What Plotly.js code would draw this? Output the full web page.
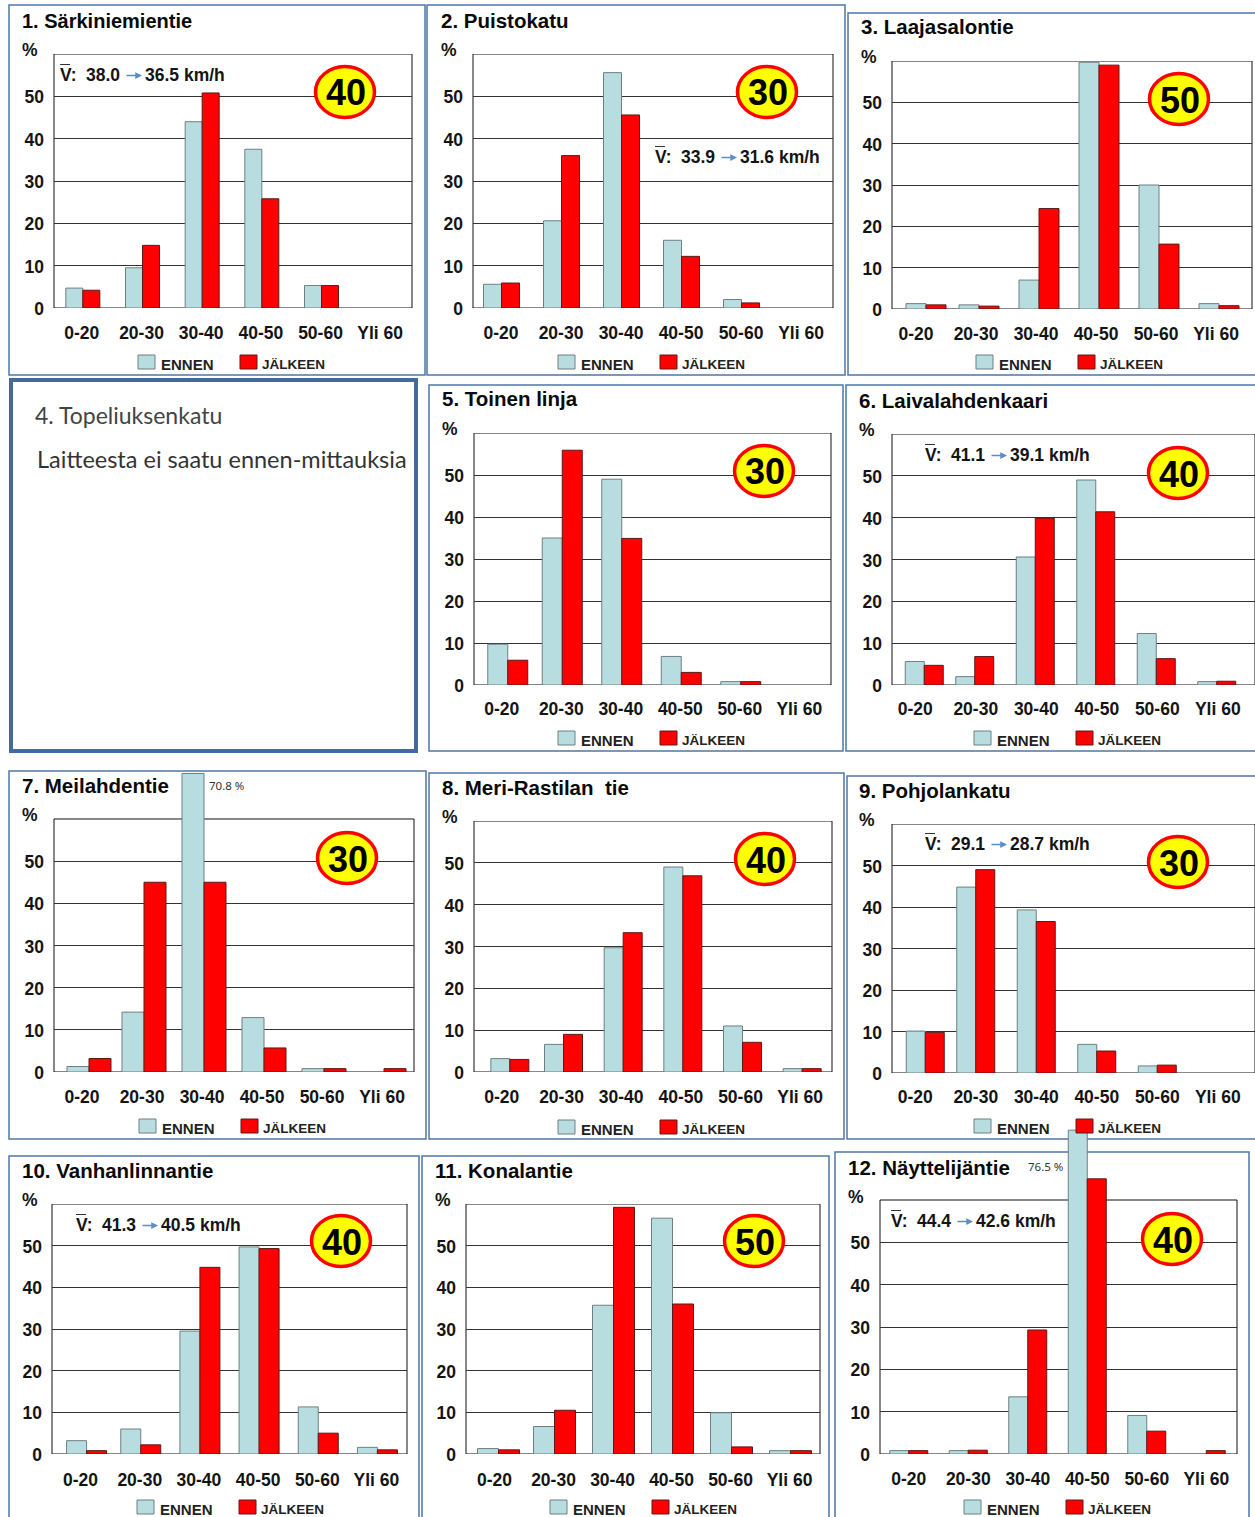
<!DOCTYPE html>
<html>
<head>
<meta charset="utf-8">
<script src="https://cdn.plot.ly/plotly-3.0.1.min.js"></script>
<style>html,body{margin:0;padding:0;background:#fff}</style>
</head>
<body>
<div id="chart" style="width:1255px;height:1517px"></div>
<script>
// Speed classes (km/h) on the category axis of every panel
const speedClasses = ['0-20', '20-30', '30-40', '40-50', '50-60', 'Yli 60'];

// Share of vehicles (%) per speed class, before and after
const ennen1 = [4.7, 9.5, 44, 37.5, 5.3, 0];
const jalkeen1 = [4.2, 14.8, 50.8, 25.8, 5.3, 0];
const ennen2 = [5.6, 20.6, 55.6, 16, 2, 0];
const jalkeen2 = [5.9, 36, 45.6, 12.2, 1.2, 0];
const ennen3 = [1.3, 1, 7, 59.7, 30, 1.3];
const jalkeen3 = [1, 0.7, 24.3, 59, 15.7, 0.8];
const ennen5 = [9.7, 35, 49, 6.8, 0.8, 0];
const jalkeen5 = [5.9, 55.9, 34.9, 3, 0.8, 0];
const ennen6 = [5.6, 2, 30.6, 49, 12.3, 0.8];
const jalkeen6 = [4.7, 6.8, 39.9, 41.4, 6.3, 0.9];
const ennen7 = [1.3, 14.2, 70.8, 12.9, 0.8, 0];
const jalkeen7 = [3.2, 45, 45, 5.7, 0.8, 0.8];
const ennen8 = [3.2, 6.6, 29.7, 49, 11, 0.8];
const jalkeen8 = [3, 9, 33.3, 46.9, 7.1, 0.8];
const ennen9 = [10.1, 44.8, 39.3, 6.9, 1.7, 0];
const jalkeen9 = [9.8, 49, 36.5, 5.3, 1.9, 0];
const ennen10 = [3.2, 6, 29.5, 49.7, 11.3, 1.6];
const jalkeen10 = [0.8, 2.2, 44.8, 49.3, 5, 1];
const ennen11 = [1.3, 6.6, 35.7, 56.6, 9.9, 0.8];
const jalkeen11 = [1, 10.5, 59.2, 36, 1.7, 0.8];
const ennen12 = [0.8, 0.8, 13.5, 76.5, 9.1, 0];
const jalkeen12 = [0.8, 0.9, 29.3, 65, 5.4, 0.8];

const W = 1255, H = 1517;
const FONT = '"Liberation Sans", Arial, sans-serif';
const INK = '#141414';
const FRAME_TOP = 60;   // value at which each plot frame closes

// Pixel helpers for the paper coordinate system
const px = x => x / W;
const py = y => 1 - y / H;

// One entry per chart panel: box = outer frame, plot = [left, right, top, bottom],
// bw = bar width, shift = bar offset, lead = extra offset of the first group,
// ls = tick label offset (all in pixels)
const panels = [
  {title: '1. Särkiniemientie', ts: 20, e: ennen1, j: jalkeen1, limit: 40, box: [9, 5, 425, 375], plot: [54, 412, 54, 308], bw: 17, shift: -1, lead: 0, ls: -2, tx: 22, ty: 21, sign: [345, 92], lx: 138, ly: 362, xy: 333, v: ['38.0', '36.5', 59, 75]},
  {title: '2. Puistokatu', e: ennen2, j: jalkeen2, limit: 30, box: [427, 5, 845, 375], plot: [473, 833, 54, 308], bw: 18, shift: -1.5, lead: 0, ls: -2, tx: 441, ty: 21, sign: [767, 92], lx: 558, ly: 362, xy: 333, v: ['33.9', '31.6', 654, 157]},
  {title: '3. Laajasalontie', e: ennen3, j: jalkeen3, limit: 50, box: [848, 13, 1256, 375], plot: [892, 1252, 61, 309], bw: 20, shift: -3, lead: 7, ls: -6, tx: 861, ty: 28, sign: [1179, 99], lx: 976, ly: 362, xy: 334},
  {title: '5. Toinen linja', e: ennen5, j: jalkeen5, limit: 30, box: [429, 385, 843, 751], plot: [474, 831, 433, 685], bw: 20, shift: -1, lead: 5, ls: -2, tx: 442, ty: 400, sign: [764, 471], lx: 558, ly: 738, xy: 709},
  {title: '6. Laivalahdenkaari', e: ennen6, j: jalkeen6, limit: 40, box: [846, 385, 1256, 751], plot: [892, 1255, 434, 685], bw: 19, shift: -8, lead: 10, ls: -7, tx: 859, ty: 401, sign: [1178, 473], lx: 974, ly: 738, xy: 709, v: ['41.1', '39.1', 924, 455]},
  {title: '7. Meilahdentie', e: ennen7, j: jalkeen7, limit: 30, box: [9, 771, 426, 1139], plot: [54, 414, 819, 1072], bw: 22, shift: 0, lead: 5, ls: -2, tx: 22, ty: 786, sign: [347, 858], lx: 139, ly: 1126, xy: 1097, headroom: 80, note: ['70.8 %', 208, 785]},
  {title: '8. Meri-Rastilan  tie', e: ennen8, j: jalkeen8, limit: 40, box: [429, 773, 844, 1139], plot: [474, 832, 821, 1072], bw: 19, shift: 0, lead: 6, ls: -2, tx: 442, ty: 788, sign: [765, 859], lx: 558, ly: 1127, xy: 1097},
  {title: '9. Pohjolankatu', e: ennen9, j: jalkeen9, limit: 30, box: [847, 776, 1256, 1139], plot: [892, 1255, 824, 1073], bw: 19, shift: -7, lead: 10, ls: -7, tx: 859, ty: 791, sign: [1178, 862], lx: 974, ly: 1126, xy: 1097, v: ['29.1', '28.7', 924, 844]},
  {title: '10. Vanhanlinnantie', e: ennen10, j: jalkeen10, limit: 40, box: [9, 1156, 419, 1518], plot: [52, 407, 1204, 1454], bw: 20, shift: 0, lead: 5, ls: -1, tx: 22, ty: 1171, sign: [341, 1241], lx: 137, ly: 1507, xy: 1480, v: ['41.3', '40.5', 75, 1225]},
  {title: '11. Konalantie', e: ennen11, j: jalkeen11, limit: 50, box: [422, 1156, 829, 1518], plot: [466, 820, 1204, 1454], bw: 21, shift: 0, lead: 3, ls: -1, tx: 435, ty: 1171, sign: [754, 1241], lx: 550, ly: 1507, xy: 1480},
  {title: '12. Näyttelijäntie', e: ennen12, j: jalkeen12, limit: 40, box: [835, 1152, 1249, 1518], plot: [880, 1237, 1200, 1454], bw: 19, shift: -1, lead: 0, ls: -1, tx: 848, ty: 1168, sign: [1172, 1239], lx: 964, ly: 1507, xy: 1479, headroom: 80, v: ['44.4', '42.6', 890, 1221], note: ['76.5 %', 1027, 1166]}
];

const traces = [], shapes = [], annotations = [];
const layout = {
  width: W, height: H, autosize: false,
  margin: {l: 0, r: 0, t: 0, b: 0},
  paper_bgcolor: '#fff', plot_bgcolor: 'rgba(0,0,0,0)',
  showlegend: false, barmode: 'overlay',
  font: {family: FONT, color: INK},
  shapes, annotations
};

function label(text, x, y, size, opts) {
  annotations.push(Object.assign({
    text, xref: 'paper', yref: 'paper', x: px(x), y: py(y),
    xanchor: 'left', yanchor: 'middle', showarrow: false, borderpad: 0,
    font: {family: FONT, size, color: INK, weight: 700}
  }, opts || {}));
}

panels.forEach((p, i) => {
  const n = i === 0 ? '' : String(i + 1);
  const [left, right, top, bottom] = p.plot;
  const catW = (right - left) / speedClasses.length;
  const width = p.bw / catW, centre = p.shift / catW;
  const yMax = p.headroom || FRAME_TOP;
  // Panels with a bar beyond the frame get a taller axis; the frame stays at FRAME_TOP
  const domainTop = bottom - (bottom - top) * yMax / FRAME_TOP;
  const edge = values => values.map(v => (v > 0 ? 1 : 0));
  const starts = base => speedClasses.map((_, k) => base + (k === 0 ? p.lead / catW : 0));

  traces.push({
    type: 'bar', name: 'ENNEN', x: speedClasses, y: p.e, xaxis: 'x' + n, yaxis: 'y' + n,
    width, offset: starts(centre - width),
    marker: {color: '#b8dde1', line: {color: '#6f7f80', width: edge(p.e)}}
  }, {
    type: 'bar', name: 'JÄLKEEN', x: speedClasses, y: p.j, xaxis: 'x' + n, yaxis: 'y' + n,
    width, offset: starts(centre),
    marker: {color: '#ff0000', line: {color: '#5a1a1a', width: edge(p.j)}}
  });

  layout['xaxis' + n] = {
    domain: [px(left), px(right)], anchor: 'y' + n, type: 'category',
    categoryorder: 'array', categoryarray: speedClasses, range: [-0.5, 5.5],
    showgrid: false, showline: false,
    ticks: '', ticklabelstandoff: Math.round(p.xy - bottom - 13), ticklabelshift: p.ls, fixedrange: true,
    tickfont: {family: FONT, size: 17.5, color: INK, weight: 700}
  };
  layout['yaxis' + n] = {
    domain: [py(bottom), py(domainTop)], anchor: 'x' + n, range: [0, yMax],
    tickmode: 'array', tickvals: [0, 10, 20, 30, 40, 50], ticktext: ['0', '10', '20', '30', '40', '50'],
    showgrid: true, gridcolor: '#333', gridwidth: 1, zeroline: false, showline: false,
    ticks: '', ticklabelstandoff: 9, ticklabelshift: 1, fixedrange: true,
    tickfont: {family: FONT, size: 17.5, color: INK, weight: 700}
  };

  // Plot frame, behind the bars
  shapes.push({type: 'rect', xref: `x${n} domain`, yref: 'y' + n, layer: 'below',
    x0: 0, x1: 1, y0: 0, y1: FRAME_TOP,
    line: {color: '#111', width: 1}, fillcolor: 'rgba(0,0,0,0)'});

  // Panel frame
  shapes.push({type: 'rect', xref: 'paper', yref: 'paper', layer: 'below',
    x0: px(p.box[0]), x1: px(p.box[2]), y0: py(p.box[1]), y1: py(p.box[3]),
    line: {color: '#4f76a6', width: 1.5}, fillcolor: 'rgba(0,0,0,0)'});

  // Heading and unit
  const titleSize = p.ts || 20.5;
  label(p.title, p.tx - 1, p.ty - (i < 2 ? 0 : 1), titleSize, {font: {family: FONT, size: titleSize, color: '#0a0a0a', weight: 700}});
  label('%', p.tx - 1, p.ty + 29, 17.5);

  // Speed limit sign
  const [sx, sy] = p.sign;
  shapes.push({type: 'circle', xref: 'paper', yref: 'paper', layer: 'above',
    x0: px(sx - 29.5), x1: px(sx + 29.5), y0: py(sy - 25.5), y1: py(sy + 25.5),
    fillcolor: '#ffff00', line: {color: '#ff0000', width: 3.5}});
  label(String(p.limit), sx + 1, sy + 1, 36, {xanchor: 'center', font: {family: FONT, size: 36, color: '#000', weight: 700}});

  // Mean speed before and after
  if (p.v) {
    const [a, b, vx, vy] = p.v;
    label('V:', vx, vy, 17.5);
    label(a, vx + 26, vy, 17.5);
    label(`${b} km/h`, vx + 85, vy, 17.5);
    annotations.push({xref: 'paper', yref: 'paper', x: px(vx + 83), y: py(vy + 0.5), text: '',
      showarrow: true, ax: -17, ay: 0, arrowcolor: '#5b8ccb', arrowwidth: 1.5, arrowhead: 2, arrowsize: 0.9, standoff: 0});
    shapes.push({type: 'line', xref: 'paper', yref: 'paper', layer: 'above',
      x0: px(vx + 1), x1: px(vx + 11), y0: py(vy - 10.5), y1: py(vy - 10.5),
      line: {color: '#333', width: 1}});
  }

  // Note beside a bar that rises past the plot area
  if (p.note) {
    label(p.note[0], p.note[1], p.note[2], 11.5, {font: {family: '"Noto Sans", sans-serif', size: 11.5, color: '#333', weight: 400}});
  }

  // Legend
  [[p.lx, '#b8dde1', '#6f7f80', 'ENNEN', 15, 22], [p.lx + 102, '#ff0000', '#5a1a1a', 'JÄLKEEN', 13.5, 21]].forEach(([x, fill, edgeColor, name, size, gap]) => {
    shapes.push({type: 'rect', xref: 'paper', yref: 'paper', layer: 'above',
      x0: px(x), x1: px(x + 17), y0: py(p.ly - 7), y1: py(p.ly + 7),
      fillcolor: fill, line: {color: edgeColor, width: 1}});
    label(name, x + gap, p.ly + 2, size, {font: {family: FONT, size, color: '#222', weight: 700}});
  });
});

// Panel without a chart
shapes.push({type: 'rect', xref: 'paper', yref: 'paper', layer: 'below',
  x0: px(11), x1: px(416), y0: py(380), y1: py(751),
  line: {color: '#44699b', width: 4}, fillcolor: 'rgba(0,0,0,0)'});
label('4. Topeliuksenkatu', 34, 415, 23, {font: {family: 'Lato, sans-serif', size: 23, color: '#444', weight: 400}});
label('Laitteesta ei saatu ennen-mittauksia', 36, 459, 23.5, {font: {family: 'Lato, sans-serif', size: 23.5, color: '#333', weight: 400}});

Plotly.newPlot('chart', traces, layout, {displayModeBar: false, responsive: false});
</script>
</body>
</html>
